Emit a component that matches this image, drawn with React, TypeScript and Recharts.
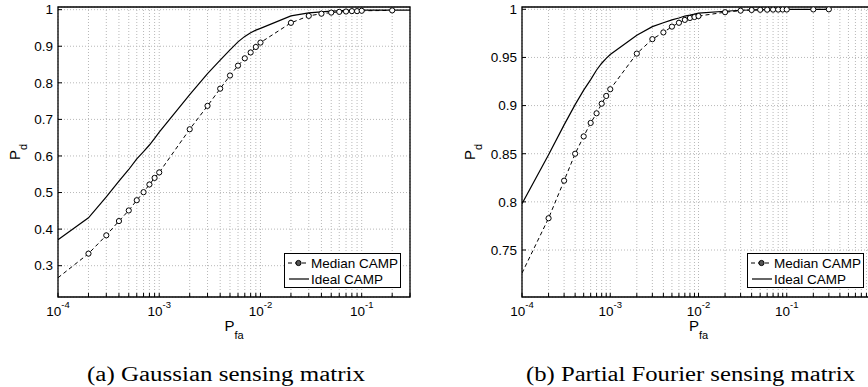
import React from 'react';
import { LineChart, Line, XAxis, YAxis, CartesianGrid, ReferenceArea } from 'recharts';

// ---------- data ----------
const pfa = [
  1e-4, 2e-4, 3e-4, 4e-4, 5e-4, 6e-4, 7e-4, 8e-4, 9e-4,
  1e-3, 2e-3, 3e-3, 4e-3, 5e-3, 6e-3, 7e-3, 8e-3, 9e-3,
  1e-2, 2e-2, 3e-2, 4e-2, 5e-2, 6e-2, 7e-2, 8e-2, 9e-2,
  0.1, 0.2, 0.3,
];

const medianGaussian = [
  0.267, 0.333, 0.383, 0.422, 0.451, 0.479, 0.501, 0.522, 0.54,
  0.555, 0.673, 0.737, 0.784, 0.82, 0.847, 0.867, 0.883, 0.898,
  0.91, 0.964, 0.983, 0.989, 0.992, 0.994, 0.995, 0.996, 0.996,
  0.997, 0.998, null,
];
const idealGaussian = [
  0.371, 0.431, 0.488, 0.531, 0.563, 0.592, 0.612, 0.63, 0.648,
  0.665, 0.768, 0.825, 0.862, 0.89, 0.912, 0.927, 0.937, 0.944,
  0.949, 0.983, 0.991, 0.994, 0.996, 0.997, 0.998, 0.998, 0.998,
  0.999, 0.999, 0.999,
];

const medianFourier = [
  0.726, 0.783, 0.822, 0.85, 0.868, 0.882, 0.892, 0.902, 0.91,
  0.917, 0.954, 0.969, 0.976, 0.982, 0.986, 0.989, 0.991, 0.992,
  0.993, 0.997, 0.9986, 0.9993, 0.9995, 0.9996, 0.9997, 0.9997, 0.9998,
  0.9998, 0.9999, 1.0,
];
const idealFourier = [
  0.798, 0.849, 0.88, 0.901, 0.916, 0.927, 0.937, 0.944, 0.949,
  0.953, 0.973, 0.982, 0.986, 0.989, 0.991, 0.993, 0.994, 0.995,
  0.996, 0.998, 0.999, 0.9993, 0.9995, 0.9996, 0.9997, 0.9998, 0.9998,
  0.9999, 1.0, 1.0,
];

const seriesNames = ['Median CAMP', 'Ideal CAMP'];
const captions = ['(a) Gaussian sensing matrix', '(b) Partial Fourier sensing matrix'];

const xTicksGaussian = [
  1e-4, 2e-4, 3e-4, 4e-4, 5e-4, 6e-4, 7e-4, 8e-4, 9e-4,
  1e-3, 2e-3, 3e-3, 4e-3, 5e-3, 6e-3, 7e-3, 8e-3, 9e-3,
  1e-2, 2e-2, 3e-2, 4e-2, 5e-2, 6e-2, 7e-2, 8e-2, 9e-2,
  1e-1, 2e-1, 3e-1,
];
const xTicksFourier = [
  1e-4, 2e-4, 3e-4, 4e-4, 5e-4, 6e-4, 7e-4, 8e-4, 9e-4,
  1e-3, 2e-3, 3e-3, 4e-3, 5e-3, 6e-3, 7e-3, 8e-3, 9e-3,
  1e-2, 2e-2, 3e-2, 4e-2, 5e-2, 6e-2, 7e-2, 8e-2, 9e-2,
  1e-1, 2e-1, 3e-1, 4e-1, 5e-1, 6e-1, 7e-1, 8e-1, 9e-1, 1,
];
// tick values that carry a "10^k" label (the 10^0 label lies outside the cropped picture)
const xTickLabelExponents = [-4, -3, -2, -1];
const yTicksGaussian = [0.3, 0.4, 0.5, 0.6, 0.7, 0.8, 0.9, 1];
const yTicksFourier = [0.75, 0.8, 0.85, 0.9, 0.95, 1];

// ---------- styling ----------
const SANS = '"Liberation Sans", Arial, Helvetica, sans-serif';
const SERIF = '"Liberation Serif", "Times New Roman", serif';
const GRID = '#b8b8b8';

const buildRows = (median: (number | null)[], ideal: (number | null)[]) =>
  pfa.map((x, i) => ({ x, median: median[i], ideal: ideal[i] }));

const renderXTick = (props: any) => {
  const { x, y, payload } = props;
  const v = payload.value as number;
  const lg = Math.log10(v);
  const e = Math.round(lg);
  if (Math.abs(lg - e) > 1e-6 || !xTickLabelExponents.includes(e)) return <g />;
  return (
    <text x={x} y={y + 19} textAnchor="middle" fontFamily={SANS} fontSize={13.5} fill="#000">
      <tspan>10</tspan>
      <tspan dy={-8} fontSize={9.5}>{String(e)}</tspan>
    </text>
  );
};

const renderDot = (props: any) => {
  const { cx, cy, index, value } = props;
  if (index === 0 || value == null || cx == null || cy == null) return <g key={`d${index}`} />;
  return <circle key={`d${index}`} cx={cx} cy={cy} r={2.6} fill="#fff" stroke="#000" strokeWidth={1} />;
};

type PanelProps = {
  rows: any[];
  width: number;
  yAxisWidth: number;
  marginRight: number;
  xDomain: [number, number];
  yDomain: [number, number];
  xTicks: number[];
  yTicks: number[];
  yLabelX: number;
  caption: string;
  captionWidth: number;
};

function Panel(p: PanelProps) {
  const xLabel = (props: any) => {
    const vb = props.viewBox;
    const cx = vb.x + vb.width / 2;
    return (
      <g>
        <text x={cx} y={vb.y + 34} textAnchor="middle" fontFamily={SANS} fontSize={15} fill="#000">
          <tspan>P</tspan>
          <tspan dy={8} fontSize={11}>fa</tspan>
        </text>
        <text
          x={cx - 8}
          y={vb.y + 84}
          textAnchor="middle"
          fontFamily={SERIF}
          fontSize={20}
          fill="#000"
          textLength={p.captionWidth}
          lengthAdjust="spacingAndGlyphs"
        >
          {p.caption}
        </text>
      </g>
    );
  };
  const yLabel = (props: any) => {
    const vb = props.viewBox;
    const cx = vb.x + p.yLabelX;
    const cy = vb.y + vb.height / 2;
    return (
      <text
        x={cx}
        y={cy}
        transform={`rotate(-90, ${cx}, ${cy})`}
        textAnchor="middle"
        fontFamily={SANS}
        fontSize={15}
        fill="#000"
      >
        <tspan>P</tspan>
        <tspan dy={7} fontSize={11}>d</tspan>
      </text>
    );
  };
  return (
    <LineChart
      width={p.width}
      height={387}
      data={p.rows}
      margin={{ top: 6, right: p.marginRight, bottom: 50, left: 0 }}
    >
      <CartesianGrid stroke={GRID} strokeDasharray="1 2" strokeWidth={1} />
      <XAxis
        dataKey="x"
        type="number"
        scale="log"
        domain={p.xDomain}
        ticks={p.xTicks}
        interval={0}
        allowDataOverflow
        height={40}
        tickSize={-4}
        tickMargin={4}
        tick={renderXTick}
        tickLine={{ stroke: '#000' }}
        axisLine={false}
        label={xLabel}
      />
      <XAxis
        xAxisId="top"
        orientation="top"
        dataKey="x"
        type="number"
        scale="log"
        domain={p.xDomain}
        ticks={p.xTicks}
        interval={0}
        allowDataOverflow
        height={1}
        tickSize={-4}
        tick={false}
        tickLine={{ stroke: '#000' }}
        axisLine={false}
      />
      <YAxis
        type="number"
        domain={p.yDomain}
        ticks={p.yTicks}
        interval={0}
        allowDataOverflow
        width={p.yAxisWidth}
        tickSize={-4}
        tickMargin={9}
        tickFormatter={(v: number) => String(v)}
        tick={{ fill: '#000', fontSize: 13.5, fontFamily: SANS }}
        tickLine={{ stroke: '#000' }}
        axisLine={false}
        label={yLabel}
      />
      <YAxis
        yAxisId="right"
        orientation="right"
        type="number"
        domain={p.yDomain}
        ticks={p.yTicks}
        interval={0}
        allowDataOverflow
        width={1}
        tickSize={-4}
        tick={false}
        tickLine={{ stroke: '#000' }}
        axisLine={false}
      />
      <Line
        dataKey="ideal"
        name={seriesNames[1]}
        stroke="#000"
        strokeWidth={1.2}
        dot={false}
        isAnimationActive={false}
      />
      <Line
        dataKey="median"
        name={seriesNames[0]}
        stroke="#000"
        strokeWidth={1}
        strokeDasharray="4 3"
        dot={renderDot}
        activeDot={false}
        isAnimationActive={false}
      />
      <ReferenceArea
        x1={p.xDomain[0]}
        x2={p.xDomain[1]}
        y1={p.yDomain[0]}
        y2={p.yDomain[1]}
        fill="none"
        fillOpacity={0}
        stroke="#000"
        strokeWidth={1.3}
        ifOverflow="visible"
      />
    </LineChart>
  );
}

function LegendBox({ left, top }: { left: number; top: number }) {
  return (
    <svg
      width={117}
      height={35}
      style={{ position: 'absolute', left, top, background: '#fff', border: '1.3px solid #000', boxSizing: 'border-box' }}
    >
      <line x1={3} y1={9} x2={24} y2={9} stroke="#000" strokeWidth={1} strokeDasharray="4 3" />
      <circle cx={13.5} cy={9} r={2.6} fill="#555" stroke="#000" strokeWidth={1} />
      <text x={26} y={13.5} fontFamily={SANS} fontSize={13.5} fill="#000">{seriesNames[0]}</text>
      <line x1={4} y1={25} x2={24} y2={25} stroke="#000" strokeWidth={1.2} />
      <text x={26} y={29.5} fontFamily={SANS} fontSize={13.5} fill="#000">{seriesNames[1]}</text>
    </svg>
  );
}

export default function App() {
  return (
    <div style={{ position: 'absolute', left: 0, top: 0, width: 868, height: 387, overflow: 'hidden', background: '#fff' }}>
      <div style={{ position: 'absolute', left: 0, top: 0 }}>
        <Panel
          rows={buildRows(medianGaussian, idealGaussian)}
          width={434}
          yAxisWidth={58}
          marginRight={23}
          xDomain={[1e-4, 0.3]}
          yDomain={[0.2144, 1.0073]}
          xTicks={xTicksGaussian}
          yTicks={yTicksGaussian}
          yLabelX={19.5}
          caption={captions[0]}
          captionWidth={278}
        />
      </div>
      <div style={{ position: 'absolute', left: 434, top: 0 }}>
        <Panel
          rows={buildRows(medianFourier, idealFourier)}
          width={451}
          yAxisWidth={88}
          marginRight={9}
          xDomain={[1e-4, 1]}
          yDomain={[0.7012, 1.0024]}
          xTicks={xTicksFourier}
          yTicks={yTicksFourier}
          yLabelX={41}
          caption={captions[1]}
          captionWidth={329}
        />
      </div>
      <LegendBox left={284} top={253} />
      <LegendBox left={747} top={253} />
    </div>
  );
}
